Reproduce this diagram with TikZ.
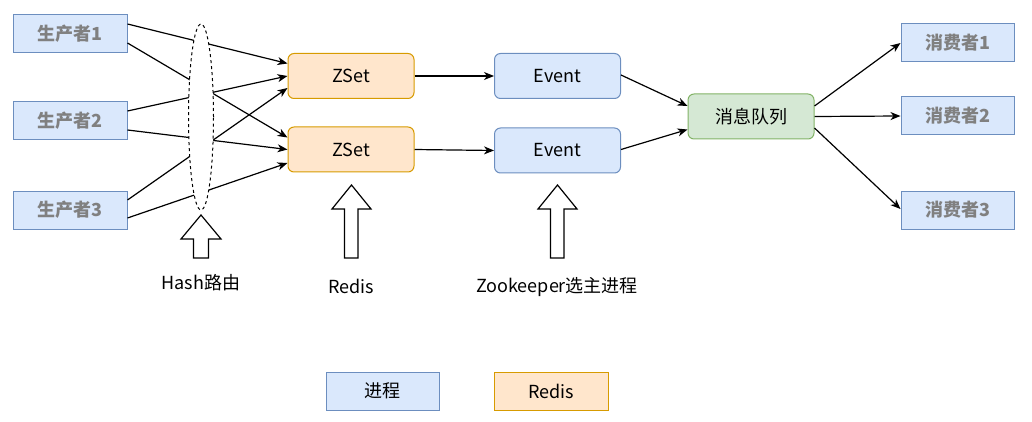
\documentclass[tikz,border=0pt]{standalone}
\usepackage{fontspec}
\setmainfont{Noto Sans CJK SC}
\usetikzlibrary{arrows.meta,calc,shapes.geometric}
\definecolor{bfill}{HTML}{DAE8FC}
\definecolor{bdraw}{HTML}{6C8EBF}
\definecolor{ofill}{HTML}{FFE6CC}
\definecolor{odraw}{HTML}{D79B00}
\definecolor{gfill}{HTML}{D5E8D4}
\definecolor{gdraw}{HTML}{82B366}
\definecolor{tgray}{HTML}{808080}
\tikzset{
  box/.style={draw, line width=1pt, inner sep=0pt, minimum width=114pt, minimum height=38pt},
  pbox/.style={box, fill=bfill, draw=bdraw, text=tgray, font=\fontsize{18pt}{21pt}\selectfont\bfseries},
  zbox/.style={box, rounded corners=6pt, fill=ofill, draw=odraw, minimum width=126pt, minimum height=45pt, font=\fontsize{18pt}{21pt}\selectfont},
  ebox/.style={box, rounded corners=6pt, fill=bfill, draw=bdraw, minimum width=126pt, minimum height=45pt, font=\fontsize{18pt}{21pt}\selectfont},
  mbox/.style={box, rounded corners=6pt, fill=gfill, draw=gdraw, minimum width=126pt, minimum height=45pt, font=\fontsize{18pt}{21pt}\selectfont},
  lbl/.style={inner sep=0pt, font=\fontsize{18pt}{21pt}\selectfont},
  conn/.style={line width=1.2pt, -{Stealth[length=10pt,width=8pt,inset=3pt]}},
  barrow/.style={draw, line width=1.2pt, fill=white, line join=miter},
}
\begin{document}
\begin{tikzpicture}[x=1pt,y=-1pt]
\useasboundingbox (0,0) rectangle (1032,422);
% producers
\node[pbox] (p1) at (70,33.5) {生产者1};
\node[pbox] (p2) at (70,121) {生产者2};
\node[pbox] (p3) at (70,210) {生产者3};
% zsets
\node[zbox] (z1) at (351,76) {ZSet};
\node[zbox] (z2) at (351,149.5) {ZSet};
% events
\node[ebox] (e1) at (557.5,76) {Event};
\node[ebox] (e2) at (557.5,150.5) {Event};
% mq
\node[mbox] (mq) at (751,116.5) {消息队列};
% consumers
\node[pbox, minimum width=113pt] (c1) at (957.5,43) {消费者1};
\node[pbox, minimum width=113pt] (c2) at (957.5,116) {消费者2};
\node[pbox, minimum width=113pt] (c3) at (957.5,210) {消费者3};
% producer -> zset
\draw[conn] ($(p1.east)+(0,-9.5)$) -- ($(z1.west)+(0,-12.5)$);
\draw[conn] ($(p1.east)+(0,9.5)$) -- ($(z2.west)+(0,-12)$);
\draw[conn] ($(p2.east)+(0,-10)$) -- ($(z1.west)+(0,0)$);
\draw[conn] ($(p2.east)+(0,9)$) -- ($(z2.west)+(0,0)$);
\draw[conn] ($(p3.east)+(0,-10)$) -- ($(z1.west)+(0,12)$);
\draw[conn] ($(p3.east)+(0,8)$) -- ($(z2.west)+(0,13.5)$);
% hash ellipse
\node[draw, dashed, line width=1pt, fill=white, ellipse, minimum width=25pt, minimum height=186pt, inner sep=0pt] (hash) at (201,117) {};
% zset -> event
\draw[conn] (z1.east) -- (e1.west);
\draw[conn] (z2.east) -- (e2.west);
% event -> mq
\draw[conn] ($(e1.east)+(0,-1)$) -- ($(mq.west)+(0,-10.5)$);
\draw[conn] ($(e2.east)+(0,-1)$) -- ($(mq.west)+(0,13)$);
% mq -> consumers
\draw[conn] ($(mq.east)+(0,-10.5)$) -- (c1.west);
\draw[conn] (mq.east) -- (c2.west);
\draw[conn] ($(mq.east)+(0,11.5)$) -- ($(c3.west)+(0,-1)$);
% block arrows
\draw[barrow] (201,215) -- (221,239) -- (208.5,239) -- (208.5,258) -- (193.5,258) -- (193.5,239) -- (181,239) -- cycle;
\draw[barrow] (351.5,185) -- (371,209) -- (358,209) -- (358,258) -- (344.5,258) -- (344.5,209) -- (332,209) -- cycle;
\draw[barrow] (557.5,185) -- (577,209) -- (564,209) -- (564,258) -- (550.5,258) -- (550.5,209) -- (538,209) -- cycle;
% labels
\node[lbl] (lh) at (201,283) {Hash路由};
\node[lbl] (lr) at (351,286) {Redis};
\node[lbl] (lz) at (557,287) {Zookeeper选主进程};
% legend
\node[box, fill=bfill, draw=bdraw, minimum width=113pt, font=\fontsize{18pt}{21pt}\selectfont] (leg1) at (382.5,391) {进程};
\node[box, fill=ofill, draw=odraw, font=\fontsize{18pt}{21pt}\selectfont] (leg2) at (551,391) {Redis};
\end{tikzpicture}
\end{document}
